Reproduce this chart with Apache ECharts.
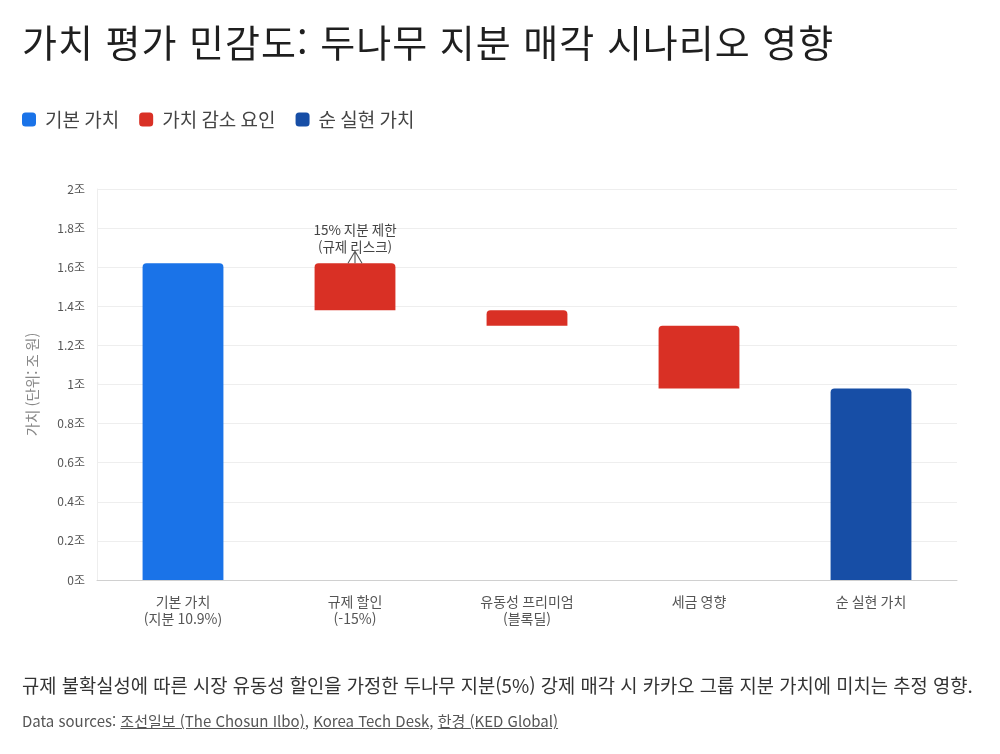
<!DOCTYPE html>
<html lang="ko">
<head>
<meta charset="utf-8">
<script src="https://cdn.jsdelivr.net/npm/echarts@6/dist/echarts.min.js"></script>
<style>
  html, body { margin: 0; padding: 0; background: #fff; }
  body { width: 1000px; height: 754px; position: relative; overflow: hidden;
    font-family: "Noto Sans CJK KR", "Noto Sans", sans-serif; }
  #chart { position: absolute; left: 0; top: 0; width: 1000px; height: 754px; }
  .title { position: absolute; left: 22px; top: 13px; font-size: 38px; letter-spacing: 1px; color: #1f1f1f; white-space: nowrap; }
  .caption { position: absolute; left: 22px; top: 671px; font-size: 18.75px; color: #333; white-space: nowrap; }
  .sources { position: absolute; left: 22px; top: 710px; font-size: 15px; color: #555; white-space: nowrap; }
  .sources span { text-decoration: underline; }
</style>
</head>
<body>
<div id="chart"></div>
<div class="title">가치 평가 민감도: 두나무 지분 매각 시나리오 영향</div>
<div class="caption">규제 불확실성에 따른 시장 유동성 할인을 가정한 두나무 지분(5%) 강제 매각 시 카카오 그룹 지분 가치에 미치는 추정 영향.</div>
<div class="sources">Data sources: <span>조선일보 (The Chosun Ilbo)</span>, <span>Korea Tech Desk</span>, <span>한경 (KED Global)</span></div>
<script>
// 워터폴: 기본 가치 → 감소 요인들 → 순 실현 가치 (단위: 조 원)
const categories = ['기본 가치\n(지분 10.9%)', '규제 할인\n(-15%)', '유동성 프리미엄\n(블록딜)', '세금 영향', '순 실현 가치']
const baseValue = 1.62
const decreases = [0.24, 0.08, 0.32]
const netValue = 0.98
const yTicks = [0, 0.2, 0.4, 0.6, 0.8, 1, 1.2, 1.4, 1.6, 1.8, 2]
const annotationText = '15% 지분 제한\n(규제 리스크)'

const BLUE = '#1a73e8', RED = '#d93025', NAVY = '#174ea6'

// 투명 받침대 + 각 단계 막대
const helper = [0]
const drops = ['-']
let level = baseValue
decreases.forEach(d => { level = +(level - d).toFixed(4); helper.push(level); drops.push(d) })
helper.push(0)
drops.push('-')
const baseData = [baseValue, '-', '-', '-', '-']
const netData = ['-', '-', '-', '-', netValue]

const chart = echarts.init(document.getElementById('chart'))
const labelFont = '"Noto Sans CJK KR", "Noto Sans", sans-serif'
chart.setOption({
  textStyle: { fontFamily: labelFont },
  animation: false,
  legend: {
    data: ['기본 가치', '가치 감소 요인', '순 실현 가치'],
    left: 17, top: 105,
    icon: 'roundRect', itemWidth: 14, itemHeight: 14, itemGap: 20,
    textStyle: { fontSize: 19, color: '#444', padding: [0, 0, 0, 4] },
  },
  grid: { left: 97, right: 43, top: 189, bottom: 174 },
  xAxis: {
    type: 'category',
    data: categories,
    axisLine: { lineStyle: { color: '#d0d0d0' } },
    axisTick: { show: false },
    axisLabel: { color: '#555', fontSize: 14, lineHeight: 17, margin: 13 },
  },
  yAxis: {
    type: 'value',
    min: 0, max: 2, interval: 0.2,
    name: '가치 (단위: 조 원)',
    nameLocation: 'middle',
    nameGap: 57,
    nameTextStyle: { color: '#888', fontSize: 14.5 },
    axisLine: { show: true, lineStyle: { color: '#eeeeee' } },
    axisTick: { show: false },
    axisLabel: {
      color: '#555', fontSize: 12, margin: 12,
      formatter: v => {
        const t = yTicks.find(x => Math.abs(x - v) < 1e-6)
        return (t === undefined ? v : t) + '조'
      },
    },
    splitLine: { lineStyle: { color: '#eeeeee' } },
  },
  series: [
    {
      name: 'helper', type: 'bar', stack: 'w', barWidth: '47%',
      itemStyle: { color: 'transparent' }, emphasis: { disabled: true },
      data: helper,
    },
    {
      name: '기본 가치', type: 'bar', stack: 'w',
      itemStyle: { color: BLUE, borderRadius: [4, 4, 0, 0] },
      data: baseData,
    },
    {
      name: '가치 감소 요인', type: 'bar', stack: 'w',
      itemStyle: { color: RED, borderRadius: [4, 4, 0, 0] },
      data: drops,
      markPoint: {
        symbol: 'path://M7,0 L7,12 M0,12 L7,0 L14,12',
        symbolSize: [14, 12],
        symbolOffset: [0, -6],
        itemStyle: { color: 'none', borderColor: '#555', borderWidth: 1 },
        label: {
          show: true, position: 'top', distance: -6,
          color: '#444', fontSize: 13.5, lineHeight: 17,
          formatter: annotationText,
        },
        data: [{ coord: [1, baseValue] }],
      },
    },
    {
      name: '순 실현 가치', type: 'bar', stack: 'w',
      itemStyle: { color: NAVY, borderRadius: [4, 4, 0, 0] },
      data: netData,
    },
  ],
})
</script>
</body>
</html>
